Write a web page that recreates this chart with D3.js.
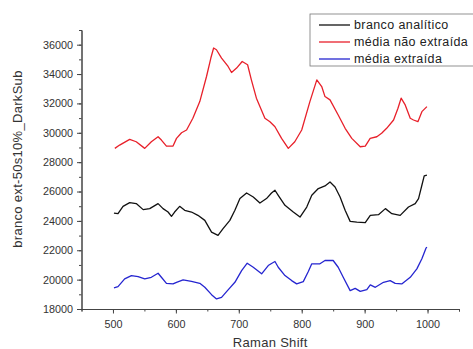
<!DOCTYPE html>
<html>
<head>
<meta charset="utf-8">
<script src="https://cdn.jsdelivr.net/npm/d3@7"></script>
<style>
  body { margin: 0; background: #fff; }
  svg { font-family: "Liberation Sans", Arial, sans-serif; }
  .axis text { fill: #333; font-size: 10.8px; }
  .axis path, .axis line { stroke: #444; }
</style>
</head>
<body>
<svg id="chart" width="473" height="349"></svg>
<script>
(function() {
const seriesNames = ['branco analítico', 'média não extraída', 'média extraída'];
const colors = ['#111', '#e8202a', '#2525d0'];

const brancoX = [501.6, 508, 516, 526.6, 537, 548, 558.4, 571.7, 579.6, 587.6, 593, 598, 606, 614, 624.8, 635, 646, 656.7, 667, 675, 685.8, 693.8, 701.8, 712.4, 723, 733.6, 744, 752, 757.5, 762.7, 773.4, 786.6, 797.3, 808, 816, 826.4, 837, 845, 853, 861, 869, 877, 887.6, 901, 909, 922, 933, 943.3, 956.5, 969.7, 980.4, 985.7, 991, 994.7, 999];
const brancoY = [24535, 24494, 24993, 25246, 25178, 24768, 24836, 25178, 24836, 24604, 24310, 24604, 24993, 24720, 24604, 24378, 24036, 23236, 23011, 23469, 24036, 24720, 25520, 25903, 25630, 25219, 25520, 25900, 26087, 25745, 25062, 24604, 24262, 24945, 25745, 26203, 26381, 26654, 26313, 25630, 24720, 23968, 23920, 23879, 24378, 24426, 24836, 24494, 24378, 24945, 25178, 25520, 26429, 27065, 27112];

const naoExtX = [503, 510.6, 526.6, 537, 550.5, 561, 571.7, 577, 585, 595.5, 601, 609, 617, 627, 638, 648.7, 655.6, 660, 664.5, 672.6, 683, 688.5, 696.5, 705.4, 714, 720, 728, 741.5, 749.5, 757.5, 768, 778.7, 789, 800, 813, 824, 831.8, 837, 845, 858, 869, 879.6, 893, 901, 908.8, 919.4, 927, 935, 946, 953, 958, 964.5, 972.5, 977.7, 984.7, 991, 999];
const naoExtY = [28938, 29163, 29553, 29389, 28938, 29390, 29730, 29505, 29094, 29094, 29620, 30004, 30189, 30989, 32123, 33832, 35090, 35774, 35657, 35090, 34516, 34106, 34406, 34857, 34632, 33607, 32356, 30988, 30756, 30415, 29620, 28938, 29390, 30189, 32123, 33607, 33149, 32466, 32240, 31214, 30305, 29620, 29048, 29094, 29620, 29730, 29963, 30305, 30872, 31672, 32356, 31897, 30989, 30872, 30756, 31440, 31782];

const extX = [501.6, 508, 518.6, 529.3, 540, 550.5, 561, 571.7, 577, 585, 595.5, 601, 611.5, 624.8, 638, 646, 656.7, 664.6, 672.6, 683, 693.8, 704.5, 713.4, 723, 736.3, 746.8, 752, 757.5, 762.7, 773.4, 784, 792, 802.5, 810.5, 816, 829, 837, 850, 858, 866, 877, 885, 893, 903.5, 909, 917, 930, 940.6, 948.6, 959, 972.5, 983, 991, 997.5, 999];
const extY = [19436, 19524, 20051, 20276, 20208, 20051, 20160, 20434, 20160, 19750, 19709, 19818, 19982, 19887, 19750, 19477, 18978, 18684, 18793, 19299, 19818, 20618, 21117, 20844, 20393, 20960, 21100, 21233, 20844, 20276, 19935, 19709, 19866, 20550, 21076, 21076, 21302, 21302, 20844, 20160, 19251, 19408, 19203, 19319, 19641, 19477, 19818, 19935, 19750, 19709, 20160, 20734, 21418, 22142, 22211];

const xTicks = [500, 600, 700, 800, 900, 1000];
const yTicks = [18000, 20000, 22000, 24000, 26000, 28000, 30000, 32000, 34000, 36000];

const seriesX = [brancoX, naoExtX, extX];
const seriesY = [brancoY, naoExtY, extY];

const svg = d3.select('svg#chart');
const margin = { top: 30, right: 14, bottom: 40, left: 81.5 };
const width = +svg.attr('width') - margin.left - margin.right;
const height = +svg.attr('height') - margin.top - margin.bottom;

const g = svg.append('g').attr('transform', `translate(${margin.left},${margin.top})`);
const xScale = d3.scaleLinear().domain([450, 1050]).range([0, width]);
const yScale = d3.scaleLinear().domain([18000, 37000]).range([height, 0]);

// minor ticks first, then the labelled axes
g.append('g')
    .attr('class', 'axis')
    .attr('transform', `translate(0,${height})`)
    .call(d3.axisBottom(xScale).tickValues(d3.range(450, 1051, 50)).tickSize(2.5).tickFormat(''));
g.append('g')
    .attr('class', 'axis')
    .call(d3.axisLeft(yScale).tickValues(d3.range(18000, 37001, 1000)).tickSize(2.5).tickFormat(''));

g.append('g')
    .attr('class', 'axis')
    .attr('transform', `translate(0,${height})`)
    .call(d3.axisBottom(xScale).tickValues(xTicks).tickFormat(d3.format('d')).tickSize(4.5).tickSizeOuter(0).tickPadding(7));
g.append('g')
    .attr('class', 'axis')
    .call(d3.axisLeft(yScale).tickValues(yTicks).tickFormat(d3.format('d')).tickSize(4.5).tickSizeOuter(0).tickPadding(4));

const line = d3.line()
    .x(d => xScale(d[0]))
    .y(d => yScale(d[1]));

for (let s = 0; s < 3; s++) {
  const pts = seriesX[s].map((x, i) => [x, seriesY[s][i]]);
  g.append('path')
      .datum(pts)
      .attr('d', line)
      .attr('fill', 'none')
      .attr('stroke', colors[s])
      .attr('stroke-width', 1.3)
      .attr('stroke-linejoin', 'round');
}

// axis titles
svg.append('text')
    .attr('x', margin.left + xScale(750))
    .attr('y', 347)
    .attr('text-anchor', 'middle')
    .attr('fill', '#333')
    .style('font-size', '13px')
    .style('letter-spacing', '0.3px')
    .text('Raman Shift');
svg.append('text')
    .attr('transform', `translate(22,159) rotate(-90)`)
    .attr('text-anchor', 'middle')
    .attr('fill', '#333')
    .style('font-size', '13px')
    .style('letter-spacing', '0.3px')
    .text('branco ext-50s10%_DarkSub');

// legend
const leg = svg.append('g').attr('transform', 'translate(310,14)');
leg.append('rect')
    .attr('width', 165).attr('height', 52)
    .attr('fill', '#fff').attr('stroke', '#777').attr('stroke-width', 0.8);
seriesNames.forEach((name, i) => {
  const y = 11 + i * 17;
  leg.append('line')
      .attr('x1', 9).attr('x2', 40).attr('y1', y).attr('y2', y)
      .attr('stroke', colors[i]).attr('stroke-width', 1.3);
  leg.append('text')
      .attr('x', 44).attr('y', y + 4)
      .attr('fill', '#222')
      .style('font-size', '12.5px')
      .style('letter-spacing', '0.4px')
      .text(name);
});
})();
</script>
</body>
</html>
